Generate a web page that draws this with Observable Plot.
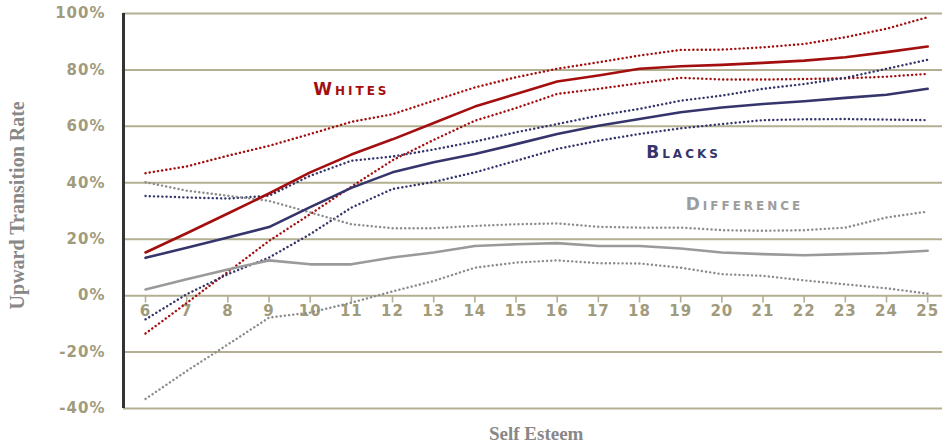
<!DOCTYPE html>
<html><head><meta charset="utf-8">
<script src="https://cdn.jsdelivr.net/npm/d3@7"></script>
<script src="https://cdn.jsdelivr.net/npm/@observablehq/plot@0.6"></script>
<style>body{margin:0;background:#fff} #chart svg{display:block}</style>
</head><body><div id="chart"></div>
<script>
const selfEsteem = [6,7,8,9,10,11,12,13,14,15,16,17,18,19,20,21,22,23,24,25];
const whites   = [15.3,22.1,29.1,36.2,43.7,50.0,55.4,61.2,67.0,71.5,75.9,78.0,80.4,81.3,81.8,82.5,83.3,84.5,86.3,88.3];
const whitesHi = [43.4,45.8,49.6,53.1,57.3,61.6,64.3,69.1,73.8,77.4,80.4,82.7,85.1,87.1,87.2,88.0,89.2,91.6,94.6,98.7];
const whitesLo = [-13.4,-2.6,8.4,19.4,28.9,38.6,48.0,55.2,62.0,66.5,71.5,73.3,75.3,77.2,76.6,76.6,76.8,77.0,77.6,78.6];
const blacks   = [13.4,17.0,20.6,24.3,31.4,38.2,43.7,47.3,50.2,53.7,57.3,60.2,62.6,65.0,66.7,67.9,68.9,70.1,71.2,73.3];
const blacksHi = [35.3,34.8,34.4,35.4,42.5,47.8,49.3,51.8,54.6,57.9,60.8,63.8,66.2,69.1,70.9,73.3,75.0,77.2,80.4,83.6];
const blacksLo = [-8.4,0.5,7.6,13.5,21.8,31.2,37.8,40.3,43.7,47.8,52.0,54.9,57.3,59.3,60.8,62.2,62.5,62.6,62.4,62.2];
const diff     = [2.2,5.8,9.3,12.5,11.1,11.1,13.5,15.3,17.6,18.2,18.6,17.6,17.6,16.7,15.3,14.7,14.3,14.7,15.1,15.9];
const diffHi   = [40.2,37.2,35.4,33.6,29.5,25.3,23.9,23.9,24.7,25.3,25.6,24.4,24.1,24.1,23.2,23.0,23.2,24.1,27.7,29.8];
const diffLo   = [-36.6,-26.7,-17.3,-7.8,-6.0,-2.5,1.5,5.2,9.9,11.7,12.5,11.5,11.4,9.9,7.6,7.0,5.4,4.0,2.6,0.7];

const yTicks = [-40,-20,0,20,40,60,80,100];
const xTicks = selfEsteem;
const labelNames = ["Whites","Blacks","Difference"];
const labelX = [11.0, 19.07, 20.55];
const labelY = [73, 50.7, 32.3];

const red = "#a30e0e", navy = "#35356c", grayS = "#9a9a9a", grayD = "#8c8c8c";
const seriesDefs = [
  {id:"wHi", values: whitesHi, color: red,  dotted: true},
  {id:"wLo", values: whitesLo, color: red,  dotted: true},
  {id:"bHi", values: blacksHi, color: navy, dotted: true},
  {id:"bLo", values: blacksLo, color: navy, dotted: true},
  {id:"dHi", values: diffHi,   color: grayD, dotted: true},
  {id:"dLo", values: diffLo,   color: grayD, dotted: true},
  {id:"d",   values: diff,     color: grayS, dotted: false},
  {id:"b",   values: blacks,   color: navy, dotted: false},
  {id:"w",   values: whites,   color: red,  dotted: false}
];
const lineMarks = seriesDefs.map(s => {
  const data = s.values.map((v, i) => ({x: selfEsteem[i], y: v}));
  return s.dotted
    ? Plot.line(data, {x:"x", y:"y", stroke: s.color, strokeWidth: 2.4, strokeDasharray: "0.1 4.1", strokeLinecap: "round"})
    : Plot.line(data, {x:"x", y:"y", stroke: s.color, strokeWidth: 2.6});
});
const labelColors = [red, navy, "#9d9d9d"];
const tickFont = "DejaVu Sans";
const chart = Plot.plot({
  width: 942, height: 445,
  marginLeft: 123, marginRight: 0, marginTop: 13, marginBottom: 37,
  x: {domain: [5.465, 25.36], axis: null},
  y: {domain: [-40, 100], axis: null},
  style: {background: "#fff"},
  marks: [
    Plot.ruleY(yTicks, {y: d => d, stroke: "#b3af92", strokeWidth: 2}),
    Plot.ruleX(xTicks, {x: d => d, y1: 0, y2: -2.6, stroke: "#b3af92", strokeWidth: 1.6}),
    Plot.text(yTicks, {y: d => d, frameAnchor: "left", dx: -18, textAnchor: "end", text: d => d + "%",
      fill: "#9f9b7c", fontFamily: tickFont, fontWeight: "bold", fontSize: 15}),
    Plot.text(xTicks, {x: d => d, y: 0, dy: 16, text: d => String(d),
      fill: "#9f9b7c", fontFamily: tickFont, fontWeight: "bold", fontSize: 15}),
    ...lineMarks,
    Plot.ruleX([5.465], {x: d => d, stroke: "#333", strokeWidth: 3}),
    Plot.text(labelNames, {x: (d, i) => labelX[i], y: (d, i) => labelY[i], text: d => d,
      fill: (d, i) => labelColors[i], fontFamily: tickFont, fontWeight: "bold", fontSize: 17, fontVariant: "small-caps"}),
    Plot.text(["Upward Transition Rate"], {frameAnchor: "left", textAnchor: "middle", y: () => 32, dx: -106, rotate: -90, text: d => d,
      fill: "#888", fontFamily: "Liberation Serif", fontWeight: "bold", fontSize: 20}),
    Plot.text(["Self Esteem"], {frameAnchor: "bottom", textAnchor: "middle", x: () => 15.49, dy: 31, text: d => d,
      fill: "#888", fontFamily: "Liberation Serif", fontWeight: "bold", fontSize: 19})
  ]
});
chart.querySelectorAll("text").forEach(t => {
  const s = t.textContent;
  if (labelNames.includes(s)) t.style.letterSpacing = "3px";
  else if (/^-?\d+%?$/.test(s)) t.style.letterSpacing = "1px";
});
document.getElementById("chart").appendChild(chart);
</script>
</body></html>
